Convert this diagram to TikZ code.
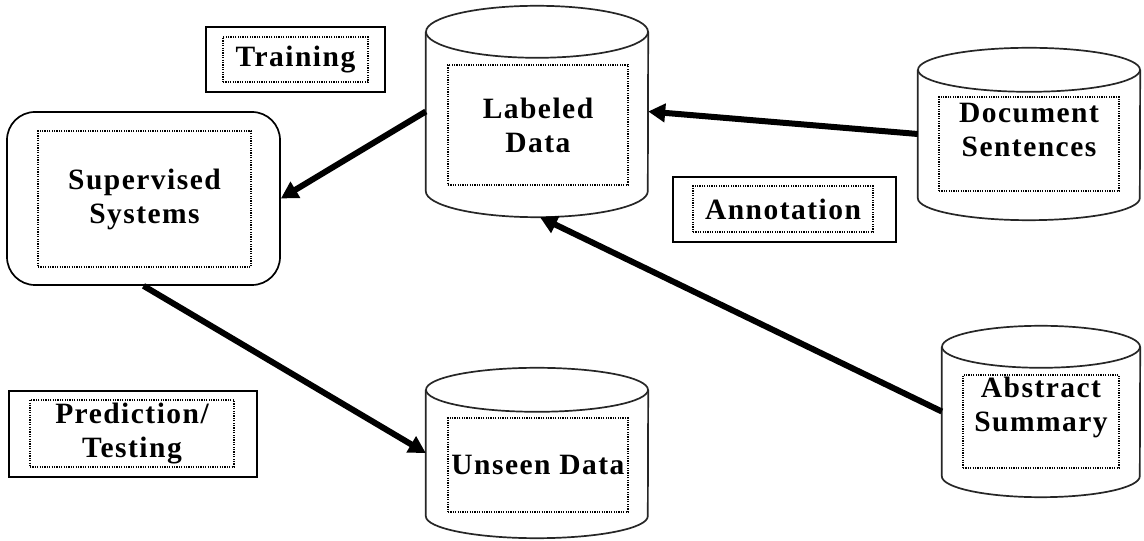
\documentclass[tikz,border=0pt]{standalone}
\usepackage{fontspec}
\setmainfont{Liberation Serif}[LetterSpace=5]
\usetikzlibrary{arrows.meta}
\tikzset{
  lbl/.style={font=\fontsize{29.5}{34}\selectfont\bfseries, align=center},
  dotbox/.style={draw, dash pattern=on 1.2pt off 1.2pt, line width=1.3pt, inner sep=0pt},
  outbox/.style={draw, line width=1.7pt, inner sep=0pt},
  cylbody/.style={inner sep=0pt},
  cylline/.style={draw=black!85, line width=1.7pt},
  arr/.style={line width=6pt, -{Triangle[length=17pt,width=18pt]}}
}
\newcommand\drawcyl[3]{%
  \draw[cylline] ([yshift=-#3]#1.north west) -- ([yshift=#3]#1.south west)
     arc[start angle=180,end angle=360,x radius=#2,y radius=#3] -- ([yshift=-#3]#1.north east);
  \draw[cylline] ([yshift=-#3]#1.north) ellipse[x radius=#2, y radius=#3];
}
\begin{document}
\begin{tikzpicture}[x=1pt,y=1pt]
\fill[white] (0,0) rectangle (1144,541);
\useasboundingbox (0,0) rectangle (1144,541);

% Training label
\node[outbox, minimum width=179pt, minimum height=65pt] (TRo) at (295.5,481.5) {};
\node[dotbox, lbl, minimum width=145pt, minimum height=45pt] (TR) at (TRo.center) {Training};

% Supervised Systems
\node[outbox, rounded corners=28pt, minimum width=273pt, minimum height=173pt] (SS) at (143.5,342.5) {};
\node[dotbox, lbl, minimum width=213pt, minimum height=136pt] (SSi) at (144.5,342) {Supervised\\Systems};

% Labeled Data cylinder
\node[cylbody, minimum width=222pt, minimum height=211pt] (LD) at (537,429.5) {};
\drawcyl{LD}{111pt}{26pt}
\node[dotbox, lbl, minimum width=180pt, minimum height=120pt] (LDi) at (538,416) {Labeled\\Data};

% Document Sentences cylinder
\node[cylbody, minimum width=222pt, minimum height=172pt] (DS) at (1029,407) {};
\drawcyl{DS}{111pt}{22pt}
\node[dotbox, minimum width=180pt, minimum height=94pt] (DSi) at (1029,397) {};
\node[lbl] (DSt) at ([yshift=14pt]DSi.center) {Document\\Sentences};

% Annotation label
\node[outbox, minimum width=223pt, minimum height=65pt] (ANo) at (784.5,331.5) {};
\node[dotbox, lbl, minimum width=180pt, minimum height=46pt] (AN) at (783,332) {Annotation};

% Prediction/Testing label
\node[outbox, minimum width=248pt, minimum height=86pt] (PTo) at (133,107) {};
\node[dotbox, lbl, minimum width=204pt, minimum height=67pt] (PT) at (132,107.5) {Prediction/\\Testing};

% Unseen Data cylinder
\node[cylbody, minimum width=222pt, minimum height=170pt] (UD) at (537,88) {};
\drawcyl{UD}{111pt}{22pt}
\node[dotbox, lbl, minimum width=180pt, minimum height=94pt] (UDi) at (538,76) {Unseen Data};

% Abstract Summary cylinder
\node[cylbody, minimum width=198pt, minimum height=171pt] (AS) at (1041,129.5) {};
\drawcyl{AS}{99pt}{21pt}
\node[dotbox, minimum width=156pt, minimum height=93pt] (ASi) at (1041,119.5) {};
\node[lbl] (ASt) at ([yshift=14pt]ASi.center) {Abstract\\Summary};

% Arrows
\draw[arr] (LD.west) -- (SS.east);
\draw[arr] (DS.west) -- (LD.east);
\draw[arr] (AS.west) -- ([xshift=3pt]LD.south);
\draw[arr] (SS.south) -- (UD.west);
\end{tikzpicture}
\end{document}
